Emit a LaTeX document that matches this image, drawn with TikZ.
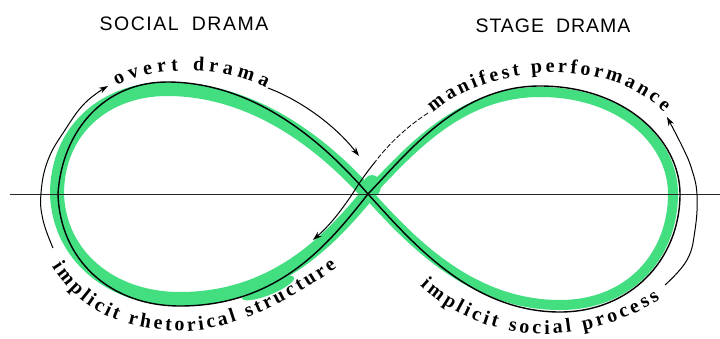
\documentclass[tikz,border=0pt]{standalone}
\usepackage{fontspec}
\setmainfont{Liberation Serif}
\setsansfont{Liberation Sans}
\usetikzlibrary{decorations.text,arrows.meta}
\definecolor{marker}{RGB}{66,222,128}
\newcommand\lblfont{\fontsize{20}{24}\selectfont\bfseries}
\begin{document}
\begin{tikzpicture}[x=1pt,y=1pt,
  curve/.style={line width=1.4pt, black},
  bandL/.style={line width=14pt, marker, line cap=round, line join=round},
  bandR/.style={line width=10pt, marker, line cap=round, line join=round},
  guide/.style={line width=1pt, black},
  tip/.style={-{Stealth[length=9pt,width=6pt]}},
  heading/.style={font=\sffamily\fontsize{19.5}{22}\selectfont},
  lbl/.style={decorate, decoration={text along path, text align={fit to path}}}]
\fill[white] (0,-338) rectangle (720,0);
\useasboundingbox (0,-338) rectangle (720,0);

% headings
\node[heading] (social) at (184,-24) {\addfontfeature{LetterSpace=8}SOCIAL\hspace{13pt}DRAMA};
\node[heading] (stage) at (553,-26) {\addfontfeature{LetterSpace=5}STAGE\hspace{12pt}DRAMA};

% green marker band
\draw[bandL] (368,-194) .. controls (330,-152) and (260,-89) .. (167,-89)
  .. controls (105,-89) and (57,-130) .. (57,-194)
  .. controls (59,-255) and (110,-299) .. (180,-299)
  .. controls (275,-299) and (330,-240) .. (368,-194);
\draw[bandR] (368,-194) .. controls (410,-150) and (460,-92) .. (540,-92)
  .. controls (620,-92) and (673,-140) .. (673,-194)
  .. controls (673,-255) and (630,-305) .. (560,-305)
  .. controls (470,-305) and (410,-240) .. (368,-194);
\fill[marker] (372,-186) ellipse [x radius=9, y radius=11];
\fill[marker] (268,-288) ellipse [x radius=28, y radius=7, rotate=22];

% horizontal axis
\coordinate (axL) at (10,-194);
\coordinate (axR) at (720,-194);
\draw[line width=0.9pt, black!85] (axL) -- (axR);

% figure eight
\coordinate (C) at (368,-194);
\draw[curve] (C) .. controls (330,-150) and (260,-82) .. (167,-82)
  .. controls (105,-82) and (62,-130) .. (58,-194)
  .. controls (60,-260) and (110,-306) .. (180,-306)
  .. controls (280,-306) and (330,-242) .. (C)
  .. controls (410,-150) and (460,-86) .. (540,-86)
  .. controls (625,-86) and (680,-140) .. (680,-194)
  .. controls (680,-260) and (630,-312) .. (560,-312)
  .. controls (470,-312) and (410,-240) .. (C);

% outer guide arrows
\draw[guide, tip] plot[smooth, tension=0.7] coordinates
  {(53,-248) (43,-220) (41,-193) (48,-160) (65,-130) (85,-103) (108,-86)};
\coordinate (od) at (268,-88);
\coordinate (odTip) at (359,-156);
\draw[guide, tip] (od) .. controls (300,-100) and (335,-125) .. (odTip);
\coordinate (mp) at (428,-113);
\coordinate (mid) at (375,-162);
\coordinate (irTip) at (313,-240);
\draw[guide, dash pattern=on 5pt off 2pt, line width=0.8pt] (mp) .. controls (405,-128) and (388,-145) .. (mid);
\draw[guide, tip] (mid) .. controls (362,-178) and (355,-190) .. (351,-196) .. controls (340,-212) and (330,-225) .. (irTip);
\draw[guide, tip] plot[smooth, tension=0.7] coordinates
  {(665,-285) (687,-260) (695,-230) (697,-195) (692,-170) (683,-148) (667,-117)};

% labels along paths
\path[lbl, decoration={text={|\lblfont|overt drama}}]
  (117,-86) .. controls (150,-66) and (220,-64) .. (266,-88);
\path[lbl, decoration={text={|\lblfont|manifest performance}}]
  (433,-113) .. controls (480,-70) and (600,-50) .. (664,-112);
\path[lbl, decoration={text={|\lblfont|implicit rhetorical structure}}]
  (52,-266) .. controls (80,-310) and (120,-330) .. (185,-331)
  .. controls (235,-330) and (290,-300) .. (337,-268);
\path[lbl, decoration={text={|\lblfont|implicit social process}}]
  (420,-285) .. controls (460,-323) and (510,-335) .. (550,-334)
  .. controls (595,-332) and (635,-316) .. (660,-299);
\end{tikzpicture}
\end{document}
